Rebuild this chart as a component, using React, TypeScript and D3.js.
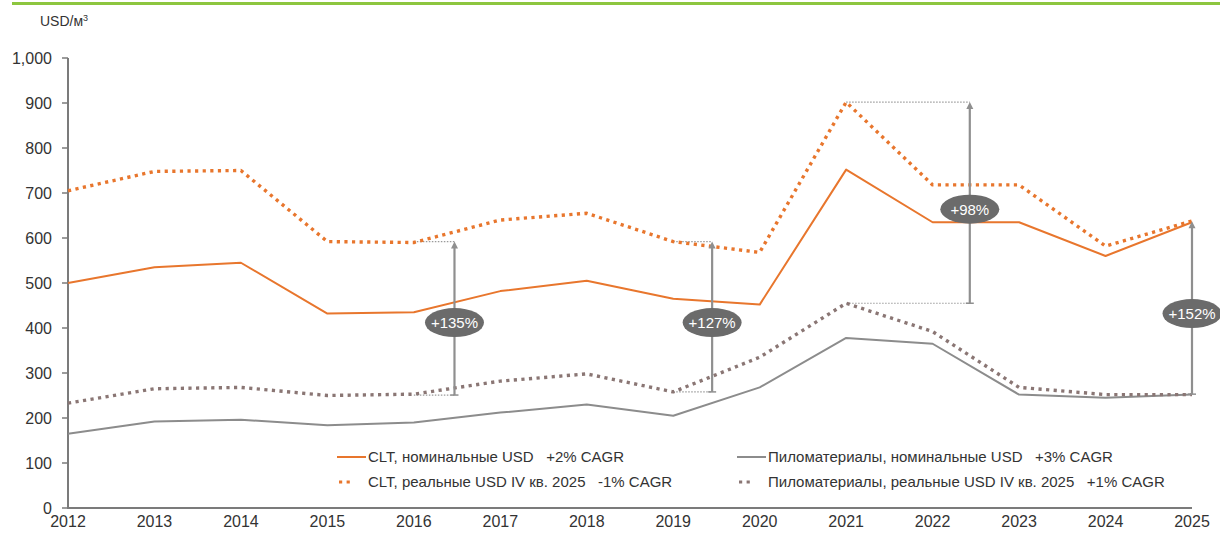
import React from "react";
import * as d3 from "d3";

const years = [2012, 2013, 2014, 2015, 2016, 2017, 2018, 2019, 2020, 2021, 2022, 2023, 2024, 2025];
const cltNominal = [500, 535, 545, 432, 435, 482, 505, 465, 452, 752, 635, 635, 560, 635];
const cltReal = [705, 748, 750, 592, 590, 640, 655, 592, 568, 902, 718, 718, 582, 638];
const lumberNominal = [165, 192, 196, 184, 190, 212, 230, 205, 268, 378, 365, 252, 245, 252];
const lumberReal = [233, 265, 268, 250, 253, 282, 298, 258, 335, 455, 392, 268, 252, 252];

const yTicks = [0, 100, 200, 300, 400, 500, 600, 700, 800, 900, 1000];

// annotation arrows
const annYears = [2016.47, 2019.45, 2022.43, 2025];
const annFromYears = [2016, 2019, 2021, 2025];
const annLow = [251, 258, 455, 253];
const annHigh = [592, 592, 902, 637];
const annLabelValue = [412, 412, 664, 432];
const annLabels = ["+135%", "+127%", "+98%", "+152%"];

const legendLabels = [
  "CLT, номинальные USD   +2% CAGR",
  "CLT, реальные USD IV кв. 2025   -1% CAGR",
  "Пиломатериалы, номинальные USD   +3% CAGR",
  "Пиломатериалы, реальные USD IV кв. 2025   +1% CAGR",
];

const ORANGE = "#e8762d";
const GRAY = "#8c8c8c";
const GRAY_DOT = "#8a7674";
const AXIS = "#7b7b7b";
const TEXT = "#333333";
const FONT = "'Liberation Sans Narrow', 'Arial Narrow', 'Liberation Sans', Arial, sans-serif";

export default function App() {
  const x = d3.scaleLinear().domain([2012, 2025]).range([68, 1192]);
  const y = d3.scaleLinear().domain([0, 1000]).range([508, 58]);
  const line = d3
    .line<number>()
    .x((_, i) => x(years[i]))
    .y((d) => y(d));

  const series = [
    { data: cltNominal, color: ORANGE, dotted: false },
    { data: cltReal, color: ORANGE, dotted: true },
    { data: lumberNominal, color: GRAY, dotted: false },
    { data: lumberReal, color: GRAY_DOT, dotted: true },
  ];

  const legendPos = [
    { mx: 337, tx: 368, ty: 457 },
    { mx: 337, tx: 368, ty: 482 },
    { mx: 737, tx: 768, ty: 457 },
    { mx: 737, tx: 768, ty: 482 },
  ];
  const legendColors = [ORANGE, ORANGE, GRAY, GRAY_DOT];
  const legendDotted = [false, true, false, true];

  return (
    <svg
      width={1220}
      height={535}
      style={{ position: "absolute", left: 0, top: 0, background: "#fff" }}
      fontFamily={FONT}
    >
      <rect width={1220} height={535} fill="#fff" />
      <line x1={12} x2={1220} y1={3.5} y2={3.5} stroke="#8dc63f" strokeWidth={3} />
      <text x={40} y={26} fontSize={14} fill={TEXT}>
        USD/м
        <tspan fontSize={9} dy={-5}>3</tspan>
      </text>

      {/* axes */}
      <line x1={68} x2={68} y1={y(1000)} y2={y(0)} stroke={AXIS} strokeWidth={2} />
      <line x1={67} x2={x(2025)} y1={y(0)} y2={y(0)} stroke={AXIS} strokeWidth={2} />
      {yTicks.map((t) => (
        <g key={t}>
          <line x1={62} x2={68} y1={y(t)} y2={y(t)} stroke={AXIS} strokeWidth={1.5} />
          <text x={52} y={y(t)} dy="0.35em" textAnchor="end" fontSize={16} fill={TEXT}>
            {d3.format(",")(t)}
          </text>
        </g>
      ))}
      {years.map((yr) => (
        <text key={yr} x={x(yr)} y={527} textAnchor="middle" fontSize={16} fill={TEXT}>
          {yr}
        </text>
      ))}

      {/* guide lines */}
      {annYears.map((ay, i) => (
        <g key={"g" + i} stroke="#9a9a9a" strokeWidth={1.2} strokeDasharray="1.5 1.5">
          {annFromYears[i] !== 2025 && (
            <>
              <line x1={x(annFromYears[i])} x2={x(ay)} y1={y(annHigh[i])} y2={y(annHigh[i])} />
              <line x1={x(annFromYears[i])} x2={x(ay)} y1={y(annLow[i])} y2={y(annLow[i])} />
            </>
          )}
        </g>
      ))}

      {/* series */}
      {series.map((s, i) => (
        <path
          key={i}
          d={line(s.data) || ""}
          fill="none"
          stroke={s.color}
          strokeWidth={s.dotted ? 3.4 : 2}
          strokeDasharray={s.dotted ? "3.2 4.4" : undefined}
          strokeLinejoin="round"
        />
      ))}

      {/* annotation arrows */}
      {annYears.map((ay, i) => {
        const ax = x(ay);
        const top = y(annHigh[i]);
        const bot = y(annLow[i]);
        const ly = y(annLabelValue[i]);
        return (
          <g key={"a" + i}>
            <line x1={ax} x2={ax} y1={top + 5} y2={bot} stroke="#8f8f8f" strokeWidth={2.2} />
            <path d={`M${ax - 3.5},${top + 7} L${ax},${top} L${ax + 3.5},${top + 7} Z`} fill="#8f8f8f" />
            <line x1={ax - 4} x2={ax + 4} y1={bot} y2={bot} stroke="#8f8f8f" strokeWidth={1.5} />
            <ellipse cx={ax} cy={ly} rx={29.5} ry={14.5} fill="#6b6b6b" />
            <text x={ax} y={ly} dy="0.36em" textAnchor="middle" fontSize={15} fill="#fff">
              {annLabels[i]}
            </text>
          </g>
        );
      })}

      {/* legend */}
      {legendLabels.map((lab, i) => {
        const p = legendPos[i];
        return (
          <g key={"l" + i}>
            {legendDotted[i] ? (
              <line
                x1={p.mx + 2}
                x2={p.mx + 14}
                y1={p.ty}
                y2={p.ty}
                stroke={legendColors[i]}
                strokeWidth={3.2}
                strokeDasharray="3.2 4.4"
              />
            ) : (
              <line x1={p.mx} x2={p.mx + 29} y1={p.ty} y2={p.ty} stroke={legendColors[i]} strokeWidth={2} />
            )}
            <text x={p.tx} y={p.ty} dy="0.35em" fontSize={15} fill={TEXT} style={{ whiteSpace: "pre" }}>
              {lab}
            </text>
          </g>
        );
      })}
    </svg>
  );
}
